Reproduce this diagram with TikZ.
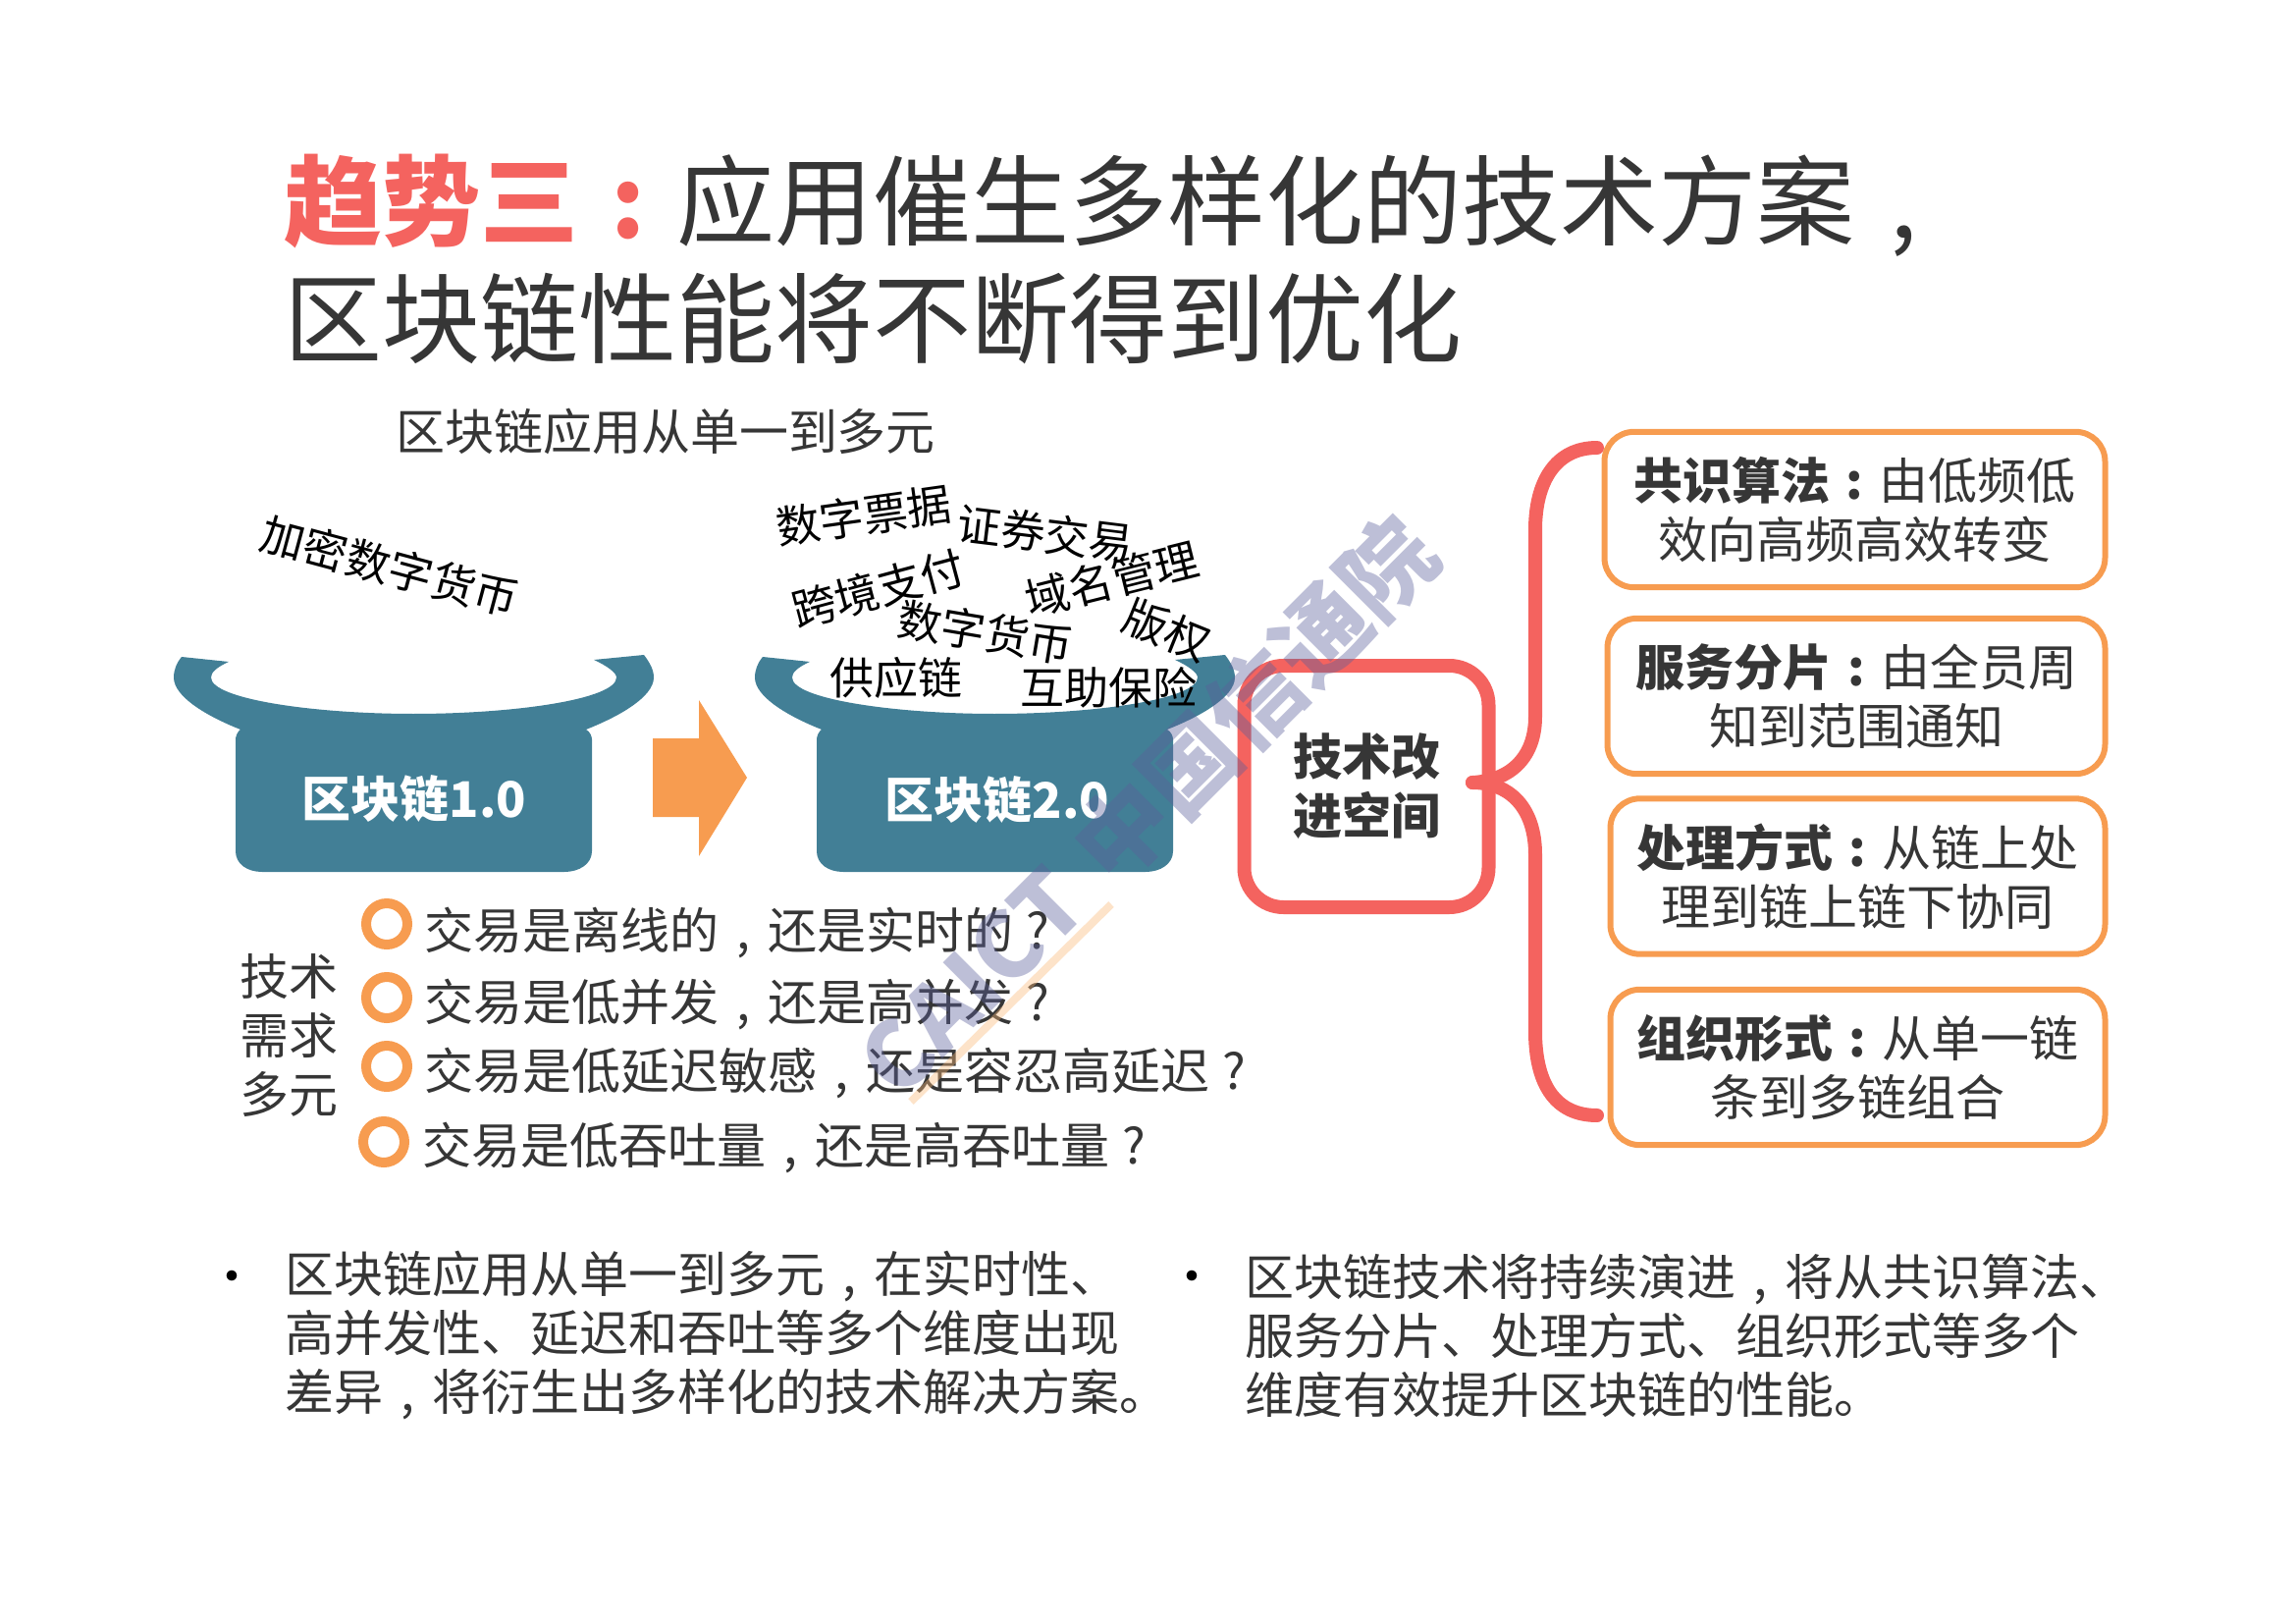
\documentclass[tikz,border=0pt]{standalone}
\usepackage{fontspec}
\setmainfont{Noto Sans CJK SC}
\definecolor{titlered}{HTML}{F4635F}
\definecolor{potblue}{HTML}{427F96}
\definecolor{ringorange}{HTML}{F79C50}
\definecolor{inkgray}{HTML}{363636}
\definecolor{markblue}{HTML}{5B5F9A}
\definecolor{markorange}{HTML}{F9B878}
\newcommand{\fw}[1]{\makebox[1em][c]{#1}}
\newcommand{\fs}[2]{\fontsize{#1}{#2}\selectfont}
\tikzset{
  txt/.style={text=inkgray,inner sep=0pt,font=\fs{15}{18},align=center},
  lefttxt/.style={txt,align=left,anchor=west},
  word/.style={text=black,inner sep=0pt,font=\fs{13.5}{15}},
  potlabel/.style={text=white,inner sep=0pt,font=\fs{15}{18}\bfseries},
  ring/.style={circle,draw=ringorange,line width=3pt,minimum size=12.6pt,inner sep=0pt},
  itembox/.style={draw=ringorange,line width=1.8pt,rounded corners=9pt,fill=white,txt},
  bracket/.style={draw=titlered,line width=4.2pt},
  markword/.style={text=markblue,opacity=0.4,inner sep=0pt,rotate=45}
}
\begin{document}
\begin{tikzpicture}[x=0.3pt,y=-0.3pt]
    \useasboundingbox (0,0) rectangle (2339,1654);

    \node[txt,align=left,anchor=west,font=\fs{30}{36}] (title) at (289,264)
      {{\color{titlered}\bfseries 趋势三\fw{:}}应用催生多样化的技术方案\fw{,}\\区块链性能将不断得到优化};
    \node[txt] (sub) at (678,439) {区块链应用从单一到多元};

    % the two pots
    \foreach \dx in {0,592}
      \fill[potblue,shift={(\dx,0)}] (185,669) -- (233,674)
        .. controls (220,680) and (215,685) .. (215,690)
        .. controls (215,712) and (320,727) .. (421,727)
        .. controls (525,727) and (628,712) .. (628,690)
        .. controls (628,685) and (618,678) .. (605,672) -- (656,667)
        .. controls (662,675) and (666,682) .. (666,690)
        .. controls (666,710) and (630,730) .. (597,743)
        .. controls (601,745) and (603,750) .. (603,753) -- (603,867)
        .. controls (603,880) and (590,888) .. (575,888) -- (267,888)
        .. controls (252,888) and (240,880) .. (240,867) -- (240,753)
        .. controls (240,750) and (242,745) .. (245,743)
        .. controls (212,730) and (177,710) .. (177,690)
        .. controls (177,682) and (180,675) .. (185,669) -- cycle;
    \node[potlabel] (chainone) at (422,813) {区块链1.0};
    \node[potlabel] (chaintwo) at (1016,814) {区块链2.0};
    \fill[ringorange] (665,752) -- (712,752) -- (712,713) -- (761,792) -- (712,872) -- (712,832) -- (665,832) -- cycle;

    % words above the pots
    \node[word,rotate=-15] (wcrypto) at (397,577) {加密数字货币};
    \node[word,rotate=8] (wbill) at (880,525) {数字票据};
    \node[word,rotate=-7] (wstock) at (1065,543) {证券交易};
    \node[word,rotate=15] (wcross) at (895,600) {跨境支付};
    \node[word,rotate=14] (wdomain) at (1133,590) {域名管理};
    \node[word,rotate=-9.5] (wcoin) at (1004,644) {数字货币};
    \node[word,rotate=-22] (wcopy) at (1189,642) {版权};
    \node[word] (wsupply) at (913,690) {供应链};
    \node[word] (wmutual) at (1129,700) {互助保险};

    % questions
    \node[txt] (need) at (294,1055) {技术\\需求\\多元};
    \node[ring] (ringa) at (394,941) {};
    \node[ring] (ringb) at (394,1016) {};
    \node[ring] (ringc) at (394,1086) {};
    \node[ring] (ringd) at (391,1163) {};
    \node[lefttxt] (aska) at (432,950) {交易是离线的\fw{,}还是实时的\fw{?}};
    \node[lefttxt] (askb) at (432,1023) {交易是低并发\fw{,}还是高并发\fw{?}};
    \node[lefttxt] (askc) at (432,1093) {交易是低延迟敏感\fw{,}还是容忍高延迟\fw{?}};
    \node[lefttxt] (askd) at (430,1169) {交易是低吞吐量\fw{,}还是高吞吐量\fw{?}};

    % right side
    \node[itembox,minimum width=153pt,minimum height=47.5pt] (boxa) at (1889.5,519)
      {{\bfseries 共识算法\fw{:}}由低频低\\效向高频高效转变};
    \node[itembox,minimum width=152.1pt,minimum height=47.5pt] (boxb) at (1891,709)
      {{\bfseries 服务分片\fw{:}}由全员周\\知到范围通知};
    \node[itembox,minimum width=151.2pt,minimum height=47.5pt] (boxc) at (1892.5,892.5)
      {{\bfseries 处理方式\fw{:}}从链上处\\理到链上链下协同};
    \node[itembox,minimum width=151.2pt,minimum height=47.5pt] (boxd) at (1892.5,1087)
      {{\bfseries 组织形式\fw{:}}从单一链\\条到多链组合};
    \node[draw=titlered,line width=4.2pt,rounded corners=12pt,txt,minimum width=74.7pt,minimum height=73.8pt,font=\fs{15}{18}\bfseries] (tech) at (1392,801) {技术改\\进空间};

    \coordinate (join) at (1500,797);
    \coordinate (endtop) at (1627,456);
    \coordinate (endbot) at (1627,1136);
    \draw[bracket,line cap=round] (join) .. controls (1540,795) and (1564,770) .. (1564,730) -- (1564,540)
      .. controls (1564,490) and (1585,456) .. (endtop);
    \draw[bracket,line cap=round] (join) .. controls (1540,797) and (1564,825) .. (1564,870) -- (1564,1050)
      .. controls (1564,1105) and (1585,1136) .. (endbot);

    % notes
    \node[txt,text=black] (dotl) at (236,1306) {•};
    \node[txt,text=black] (dotr) at (1214,1306) {•};
    \node[lefttxt] (notel) at (290,1360) {区块链应用从单一到多元\fw{,}在实时性、\\高并发性、延迟和吞吐等多个维度出现\\差异\fw{,}将衍生出多样化的技术解决方案。};
    \node[lefttxt] (noter) at (1268,1360) {区块链技术将持续演进\fw{,}将从共识算法、\\服务分片、处理方式、组织形式等多个\\维度有效提升区块链的性能。};

    % watermark
    \coordinate (marka) at (1132,921);
    \coordinate (markb) at (928,1122);
    \draw[markorange,opacity=0.4,line width=2.4pt] (marka) -- (markb);
    \node[markword,font=\fs{28.5}{30}\bfseries] (markcn) at (1278,712) {中国信通院};
    \node[markword,font=\fs{28}{30}\bfseries] (marken) at (990,1000) {CAICT};
\end{tikzpicture}
\end{document}
